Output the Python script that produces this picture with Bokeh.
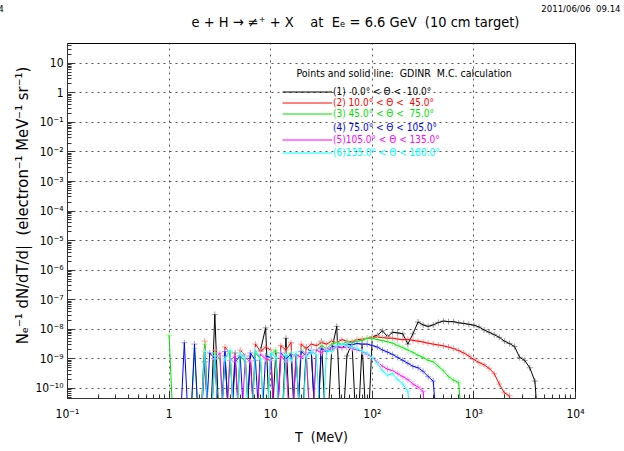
from bokeh.plotting import figure
from bokeh.models import FixedTicker, Label, Legend, LegendItem
from bokeh.embed import file_html
from bokeh.resources import INLINE

FONT = "DejaVu Sans Condensed"
TITLE_FONT = "DejaVu Sans Condensed"

# histogram bin centres: log10(T / MeV) = k * STEP, starting at T = 1 MeV
STEP = 0.05
EMPTY = 1e-12  # empty bins fall below the axis (drawn down to the frame bottom)

# series values as log10(N_e^-1 dN/dT/dOmega); None = empty bin
black_log = [None, None, None, None, None, None, None, -9.1, None, -7.5,
             None, -8.9, None, -8.8, None, None, -8.9, None, -8.7, -7.95,
             None, -8.8, None, -8.3, None, -8.9, None, -8.6, -8.8, None,
             -8.4, None, -8.7, -7.9, None, -8.9, -8.45, None, -8.5, None,
             -8.25, -8.2, -8.05, -8.25, -8.1, -8.12, -8.15, -8.5, -8.15, -7.75,
             -7.85, -7.9, -7.85, -7.77, -7.72, -7.74, -7.74, -7.78, -7.8, -7.83,
             -7.86, -7.92, -8.02, -8.1, -8.18, -8.27, -8.4, -8.48, -8.58, -8.95,
             -9.05, -9.3, -9.75, None]
red_log = [None, None, None, None, None, None, None, -8.4, None, -8.7,
           None, -8.6, -8.8, None, -8.7, -8.9, None, -8.5, -8.75, -8.6,
           -8.7, None, -8.55, -8.7, -8.45, None, -8.5, -8.65, -8.5, -8.55,
           -8.45, -8.5, -8.4, -8.45, -8.35, -8.4, -8.42, -8.35, -8.33, -8.3,
           -8.27, -8.26, -8.28, -8.3, -8.3, -8.33, -8.35, -8.34, -8.37, -8.4,
           -8.43, -8.47, -8.5, -8.53, -8.56, -8.6, -8.65, -8.72, -8.8, -8.9,
           -9.02, -9.12, -9.2, -9.32, -9.5, -9.85, -10.15, -10.25, None]
green_log = [-8.2, None, None, None, None, -8.65, None, -8.5, None, -8.8,
             -9.0, None, -8.75, None, -8.9, -9.1, None, -8.8, -9.0, None,
             -8.85, -8.7, None, -8.9, -8.8, None, -8.7, -8.85, None, -8.7,
             -8.55, -8.65, -8.5, -8.45, -8.5, -8.42, -8.45, -8.4, -8.38, -8.3,
             -8.3, -8.35, -8.38, -8.42, -8.47, -8.55, -8.62, -8.7, -8.78, -8.88,
             -8.95, -9.05, -9.1, -9.25, -9.4, -9.6, -9.72, -9.8, None]
blue_log = [None, None, None, -8.45, None, -8.5, None, None, -8.8, -9.0,
            None, -8.75, None, -9.1, -8.9, None, -8.8, -9.05, None, -8.9,
            -8.95, None, -8.8, -9.0, -8.85, None, -8.75, -8.9, -8.7, None,
            -8.65, -8.75, -8.6, -8.55, -8.62, -8.5, -8.52, -8.48, -8.5, -8.5,
            -8.55, -8.6, -8.7, -8.77, -8.85, -8.95, -9.05, -9.15, -9.25, -9.3,
            -9.42, -9.6, -9.75, None]
magenta_log = [None, None, None, None, None, None, None, -8.9, None, -9.0,
               -8.8, None, -9.05, -8.9, None, -8.95, -9.1, None, -8.85, -9.0,
               -9.05, None, -8.9, -9.1, None, -8.85, -8.95, -8.8, None, -8.7,
               -8.8, -8.65, -8.7, -8.6, -8.62, -8.6, -8.65, -8.7, -8.75, -8.85,
               -8.95, -9.1, -9.25, -9.35, -9.4, -9.5, -9.6, -9.7, -9.85, -9.95,
               -10.1, None]
cyan_log = [None, None, None, None, None, None, None, -8.75, None, -8.9,
            None, -9.0, -8.7, None, -8.8, -8.95, None, -8.7, -9.0, None,
            -8.8, -8.95, None, -8.85, -9.05, -8.8, None, -8.9, -8.75, -8.85,
            None, -8.7, -8.75, -8.55, -8.5, -8.55, -8.6, -8.65, -8.75, -8.8,
            -8.95, -9.15, -9.4, -9.55, -9.5, -9.7, -9.85, -10.1, None]

legend_labels = ["(1)\u00a0\u00a00.0° < Θ <\u00a0\u00a010.0°",
                 "(2)\u00a010.0° < Θ <\u00a0\u00a045.0°",
                 "(3)\u00a045.0° < Θ <\u00a0\u00a075.0°",
                 "(4)\u00a075.0° < Θ < 105.0°",
                 "(5)105.0° < Θ < 135.0°",
                 "(6)135.0° < Θ < 180.0°"]
line_colors = ["#000000", "#ff0000", "#00e000", "#0000ff", "#ff00ff", "#00ffff"]
err_colors = ["#9a9a9a", "#ff9a9a", "#9aff9a", "#9a9aff", "#ff9aff", "#9affff"]
series_logs = [black_log, red_log, green_log, blue_log, magenta_log, cyan_log]

x_ticks = [0.1, 1, 10, 100, 1000, 10000]
x_tick_labels = ["10⁻¹", "1", "10", "10²", "10³", "10⁴"]
y_ticks = [10, 1, 1e-1, 1e-2, 1e-3, 1e-4, 1e-5, 1e-6, 1e-7, 1e-8, 1e-9, 1e-10]
y_tick_labels = ["10", "1", "10⁻¹", "10⁻²", "10⁻³", "10⁻⁴", "10⁻⁵", "10⁻⁶",
                 "10⁻⁷", "10⁻⁸", "10⁻⁹", "10⁻¹⁰"]

p = figure(frame_width=508, frame_height=355,
           min_border_left=67, min_border_right=49, min_border_top=43, min_border_bottom=53,
           x_axis_type="log", y_axis_type="log",
           x_range=(0.1, 1e4), y_range=(10 ** -10.34, 10 ** 1.67),
           output_backend="svg", toolbar_location=None,
           background_fill_color="white", border_fill_color="white")
p.outline_line_color = "black"
p.outline_line_width = 1

x_minor = [m * d for d in [0.1, 1, 10, 100, 1000] for m in range(2, 10)]
y_minor = [m * d for d in [1e-11, 1e-10, 1e-9, 1e-8, 1e-7, 1e-6, 1e-5, 1e-4, 1e-3,
                           1e-2, 1e-1, 1, 10] for m in range(2, 10)]
p.xaxis.ticker = FixedTicker(ticks=x_ticks, minor_ticks=x_minor)
p.yaxis.ticker = FixedTicker(ticks=y_ticks, minor_ticks=y_minor)
p.xaxis.major_label_overrides = dict(zip(x_ticks, x_tick_labels))
p.yaxis.major_label_overrides = dict(zip(y_ticks, y_tick_labels))
for ax in (p.xaxis, p.yaxis):
    ax.major_tick_in = 7
    ax.major_tick_out = 0
    ax.minor_tick_in = 4
    ax.minor_tick_out = 0
    ax.axis_line_color = "#333333"
    ax.major_tick_line_color = "#333333"
    ax.minor_tick_line_color = "#333333"
    ax.major_label_text_font = FONT
    ax.major_label_text_font_size = "12px"
    ax.major_label_text_color = "black"
p.xaxis.major_label_standoff = 8
p.yaxis.major_label_standoff = 4
for g in (p.xgrid, p.ygrid):
    g.grid_line_color = "#555555"
    g.grid_line_dash = "2 4"
    g.grid_line_width = 1

renderers = []
for vals, lc, ec in zip(series_logs, line_colors, err_colors):
    xs = [10 ** (k * STEP) for k in range(len(vals))]
    ys = [10 ** v if v is not None else EMPTY for v in vals]
    ex = [x for x, v in zip(xs, vals) if v is not None]
    ey = [10 ** v for v in vals if v is not None]
    p.scatter(ex, ey, marker="cross", size=6, line_color=ec, line_width=1)
    r = p.line(xs, ys, line_color=lc, line_width=1)
    renderers.append(r)

# legend (one per row, text coloured like the curve)
legend_rows = [91, 102, 113, 126.5, 139, 151.5]
legend_sample = p.line([], [], line_color="#a8a8ff", line_width=3)
for i, (lab, lc, yc) in enumerate(zip(legend_labels, line_colors, legend_rows)):
    rr = legend_sample if i == 3 else renderers[i]
    leg = Legend(items=[LegendItem(label=lab, renderers=[rr])],
                 location=(215, 398 - yc - 6), padding=0, margin=0, spacing=0,
                 glyph_width=50, glyph_height=11, label_height=11, label_standoff=1,
                 label_text_font=FONT, label_text_font_size="10px", label_text_color=lc,
                 background_fill_alpha=0, border_line_alpha=0)
    p.add_layout(leg)

def canvas_label(text, x, y, size, place, align="center", angle=0.0, font=FONT):
    lab = Label(x=x, y=y, x_units="canvas", y_units="canvas", text=text,
                text_font=font, text_font_size=size, text_align=align,
                text_baseline="middle", angle=angle, text_color="black")
    if place == "center":
        p.add_layout(lab)
    else:
        p.add_layout(lab, place)

canvas_label("Points and solid line:\u00a0\u00a0GDINR\u00a0\u00a0M.C. calculation", 296, 72,
             "10.5px", "center", "left")
canvas_label("e + H → ≠⁺ + X\u00a0\u00a0\u00a0\u00a0at\u00a0\u00a0Eₑ = 6.6 GeV\u00a0\u00a0(10 cm target)",
             355, 21, "14.5px", "above", font=TITLE_FONT)
canvas_label("2011/06/06\u00a0\u00a009.14", 620, 8, "9.5px", "above", "right")
canvas_label("4", -2, 8, "9px", "above", "left")
canvas_label("T\u00a0\u00a0(MeV)", 321, 436, "14px", "below")
canvas_label("Nₑ⁻¹ dN/dT/d|\u00a0\u00a0(electron⁻¹ MeV⁻¹ sr⁻¹)", 22, 205, "16.5px", "left",
             angle=1.5707963)

open("out.html", "w").write(file_html(p, INLINE))
